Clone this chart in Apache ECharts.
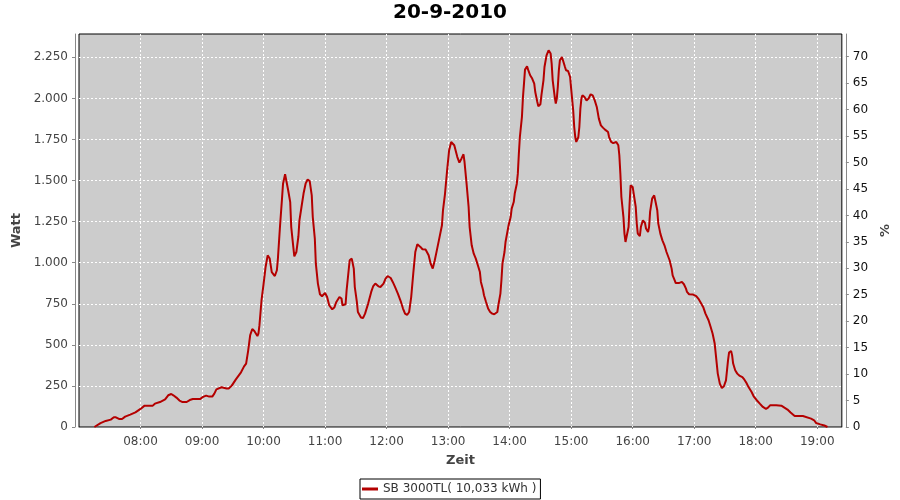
<!DOCTYPE html>
<html>
<head>
<meta charset="utf-8">
<script src="https://cdn.jsdelivr.net/npm/echarts@6/dist/echarts.min.js"></script>
<style>html,body{margin:0;padding:0;background:#fff}#c{width:900px;height:500px}</style>
</head>
<body>
<div id="c"></div>
<script>
// time in minutes since midnight
const times = [435,441,446,451,454,456,459,462,465,470,475,480,484,492,494,499,504,507,510,512,515,518,521,525,528,531,538,541,544,547,550,552,554,559,564,566,569,573,578,581,583,585,587,589,591,594,595,596,598,600,602,604,606,608,611,613,614,616,618,619,621,622,624,626,627,629,630,632,634,635,637,639,641,643,645,647,648,650,651,653,655,657,660,662,664,667,669,671,674,676,677,680,681,683,684,686,688,689,691,692,695,697,699,702,705,707,709,712,714,717,719,721,724,726,728,731,734,736,738,740,742,744,746,748,750,753,755,758,761,763,765,767,769,771,774,775,777,779,781,783,784,786,789,791,793,795,796,798,800,801,803,805,807,809,811,812,814,815,817,819,821,823,825,828,829,831,832,833,835,836,839,841,842,844,845,847,848,849,850,852,853,854,855,857,858,860,862,864,865,867,868,870,871,873,874,876,878,879,880,881,882,884,885,886,887,888,889,891,892,894,895,897,899,900,902,903,904,905,907,908,909,910,911,913,915,917,919,921,923,925,927,929,931,933,936,937,939,941,944,946,947,948,949,951,952,953,954,956,957,958,960,961,963,964,965,967,968,970,972,973,975,976,977,979,981,982,984,985,987,989,991,993,996,998,999,1001,1002,1005,1008,1010,1012,1013,1015,1019,1022,1024,1026,1029,1031,1034,1036,1038,1040,1041,1042,1043,1045,1047,1049,1051,1052,1053,1054,1056,1057,1058,1060,1062,1064,1067,1069,1071,1073,1076,1078,1081,1084,1087,1090,1092,1094,1100,1105,1108,1111,1114,1118,1126,1127,1134,1137,1139,1143,1147,1150];
// power in watt
const watts = [0,24,37,45,59,59,49,49,63,75,89,110,130,130,142,152,168,193,201,193,179,161,152,152,164,170,170,183,191,185,185,203,229,242,234,234,252,290,333,369,386,465,560,596,584,554,568,620,770,870,974,1045,1025,943,919,954,1025,1217,1390,1481,1538,1526,1441,1369,1217,1096,1039,1065,1161,1258,1339,1421,1481,1506,1497,1410,1278,1147,994,873,808,796,816,791,741,716,727,761,791,782,741,747,832,954,1015,1025,964,852,761,700,666,663,690,751,822,858,873,856,852,873,903,919,907,883,856,812,761,721,690,682,700,791,934,1065,1112,1096,1082,1080,1045,994,964,1015,1075,1136,1228,1319,1421,1560,1685,1735,1745,1715,1643,1609,1633,1660,1613,1481,1339,1217,1106,1055,1025,984,943,883,836,802,761,721,700,690,686,700,741,812,893,994,1065,1126,1228,1278,1329,1369,1421,1481,1542,1664,1765,1887,2008,2090,2175,2195,2175,2141,2121,2090,2039,1978,1952,1964,2019,2110,2191,2262,2293,2303,2273,2212,2110,2008,1968,1999,2070,2171,2232,2252,2232,2191,2171,2167,2130,2060,1928,1826,1765,1735,1765,1826,1938,1999,2019,2008,1988,1999,2025,2019,1988,1948,1877,1836,1822,1810,1795,1765,1735,1728,1735,1715,1654,1542,1400,1278,1177,1126,1136,1217,1360,1471,1461,1421,1339,1238,1177,1161,1217,1258,1242,1208,1187,1217,1309,1390,1410,1380,1319,1238,1177,1136,1106,1065,1015,964,923,893,876,876,883,869,842,822,808,806,797,782,761,727,690,650,610,568,508,447,386,325,264,237,248,284,345,406,453,463,436,386,345,325,313,304,288,268,243,213,187,163,142,122,110,118,132,132,130,118,106,88,67,67,55,51,41,24,16,9,0];

const seriesName = 'SB 3000TL( 10,033 kWh )';
const titleText = '20-9-2010';
const xStart = 420, xEnd = 1164;   // 07:00 .. 19:24
const wattMax = 2392;
const wattPerPercent = 32.2;

const pad = n => (n < 10 ? '0' : '') + n;
const fmtTime = v => (v < 480 || v % 60 !== 0) ? '' : pad(Math.floor(v / 60)) + ':' + pad(v % 60);
const fmtWatt = v => {
  if (v % 250 !== 0) return '';
  const s = String(v);
  return s.length > 3 ? s.slice(0, s.length - 3) + '.' + s.slice(-3) : s;
};

const font = 'DejaVu Sans';
const gridLine = {show: true, showMinLine: false, showMaxLine: false, lineStyle: {color: '#ffffff', type: [2, 2], width: 1}};
const chart = echarts.init(document.getElementById('c'), null, {renderer: 'canvas'});
chart.setOption({
  animation: false,
  backgroundColor: '#ffffff',
  textStyle: {fontFamily: font},
  title: {
    text: titleText, left: 'center', top: 3, padding: 0,
    textStyle: {fontFamily: font, fontSize: 20, fontWeight: 'bold', color: '#000'}
  },
  legend: {
    left: 360, bottom: 1,
    padding: [4, 4, 4, 2],
    borderColor: '#000', borderWidth: 1, borderRadius: 0,
    itemWidth: 16, itemHeight: 3, itemGap: 5,
    icon: 'rect',
    textStyle: {fontFamily: font, fontSize: 12, color: '#333'},
    data: [seriesName]
  },
  grid: {
    left: 79, right: 52, top: 34, bottom: 73,
    show: true, backgroundColor: '#cccccc', borderColor: '#000', borderWidth: 1,
    containLabel: false
  },
  xAxis: {
    type: 'value', min: xStart, max: xEnd, interval: 60,
    offset: 4,
    name: 'Zeit', nameLocation: 'middle', nameGap: 23,
    nameTextStyle: {fontFamily: font, fontSize: 13, fontWeight: 'bold', color: '#444'},
    axisLine: {show: true, lineStyle: {color: '#888', width: 1}},
    axisTick: {show: true, length: 2, lineStyle: {color: '#888'}},
    axisLabel: {formatter: fmtTime, fontFamily: font, fontSize: 12, color: '#444', margin: 5, showMaxLabel: false, showMinLabel: false},
    splitLine: gridLine
  },
  yAxis: [{
    type: 'value', min: 0, max: wattMax, interval: 250,
    position: 'left', offset: 4,
    name: 'Watt', nameLocation: 'middle', nameGap: 43, nameRotate: 90,
    nameTextStyle: {fontFamily: font, fontSize: 13, fontWeight: 'bold', color: '#444'},
    axisLine: {show: true, lineStyle: {color: '#888', width: 1}},
    axisTick: {show: true, length: 3, lineStyle: {color: '#888'}},
    axisLabel: {formatter: fmtWatt, fontFamily: font, fontSize: 12, color: '#444', margin: 7, showMaxLabel: false},
    splitLine: gridLine
  }, {
    type: 'value', min: 0, max: wattMax / wattPerPercent, interval: 5,
    position: 'right', offset: 4,
    name: '%', nameLocation: 'middle', nameGap: 22, nameRotate: 90,
    nameTextStyle: {fontFamily: font, fontSize: 13, fontWeight: 'bold', color: '#444'},
    axisLine: {show: true, lineStyle: {color: '#888', width: 1}},
    axisTick: {show: true, length: 3, lineStyle: {color: '#888'}},
    axisLabel: {formatter: v => (v % 5 === 0 ? String(v) : ''), fontFamily: font, fontSize: 12, color: '#111', margin: 7, showMaxLabel: false},
    splitLine: {show: false}
  }],
  series: [{
    name: seriesName,
    type: 'line',
    yAxisIndex: 0,
    data: times.map((t, i) => [t, watts[i]]),
    showSymbol: false, symbol: 'none',
    smooth: false,
    lineStyle: {color: '#b40000', width: 2},
    itemStyle: {color: '#b40000'}
  }]
});
</script>
</body>
</html>
